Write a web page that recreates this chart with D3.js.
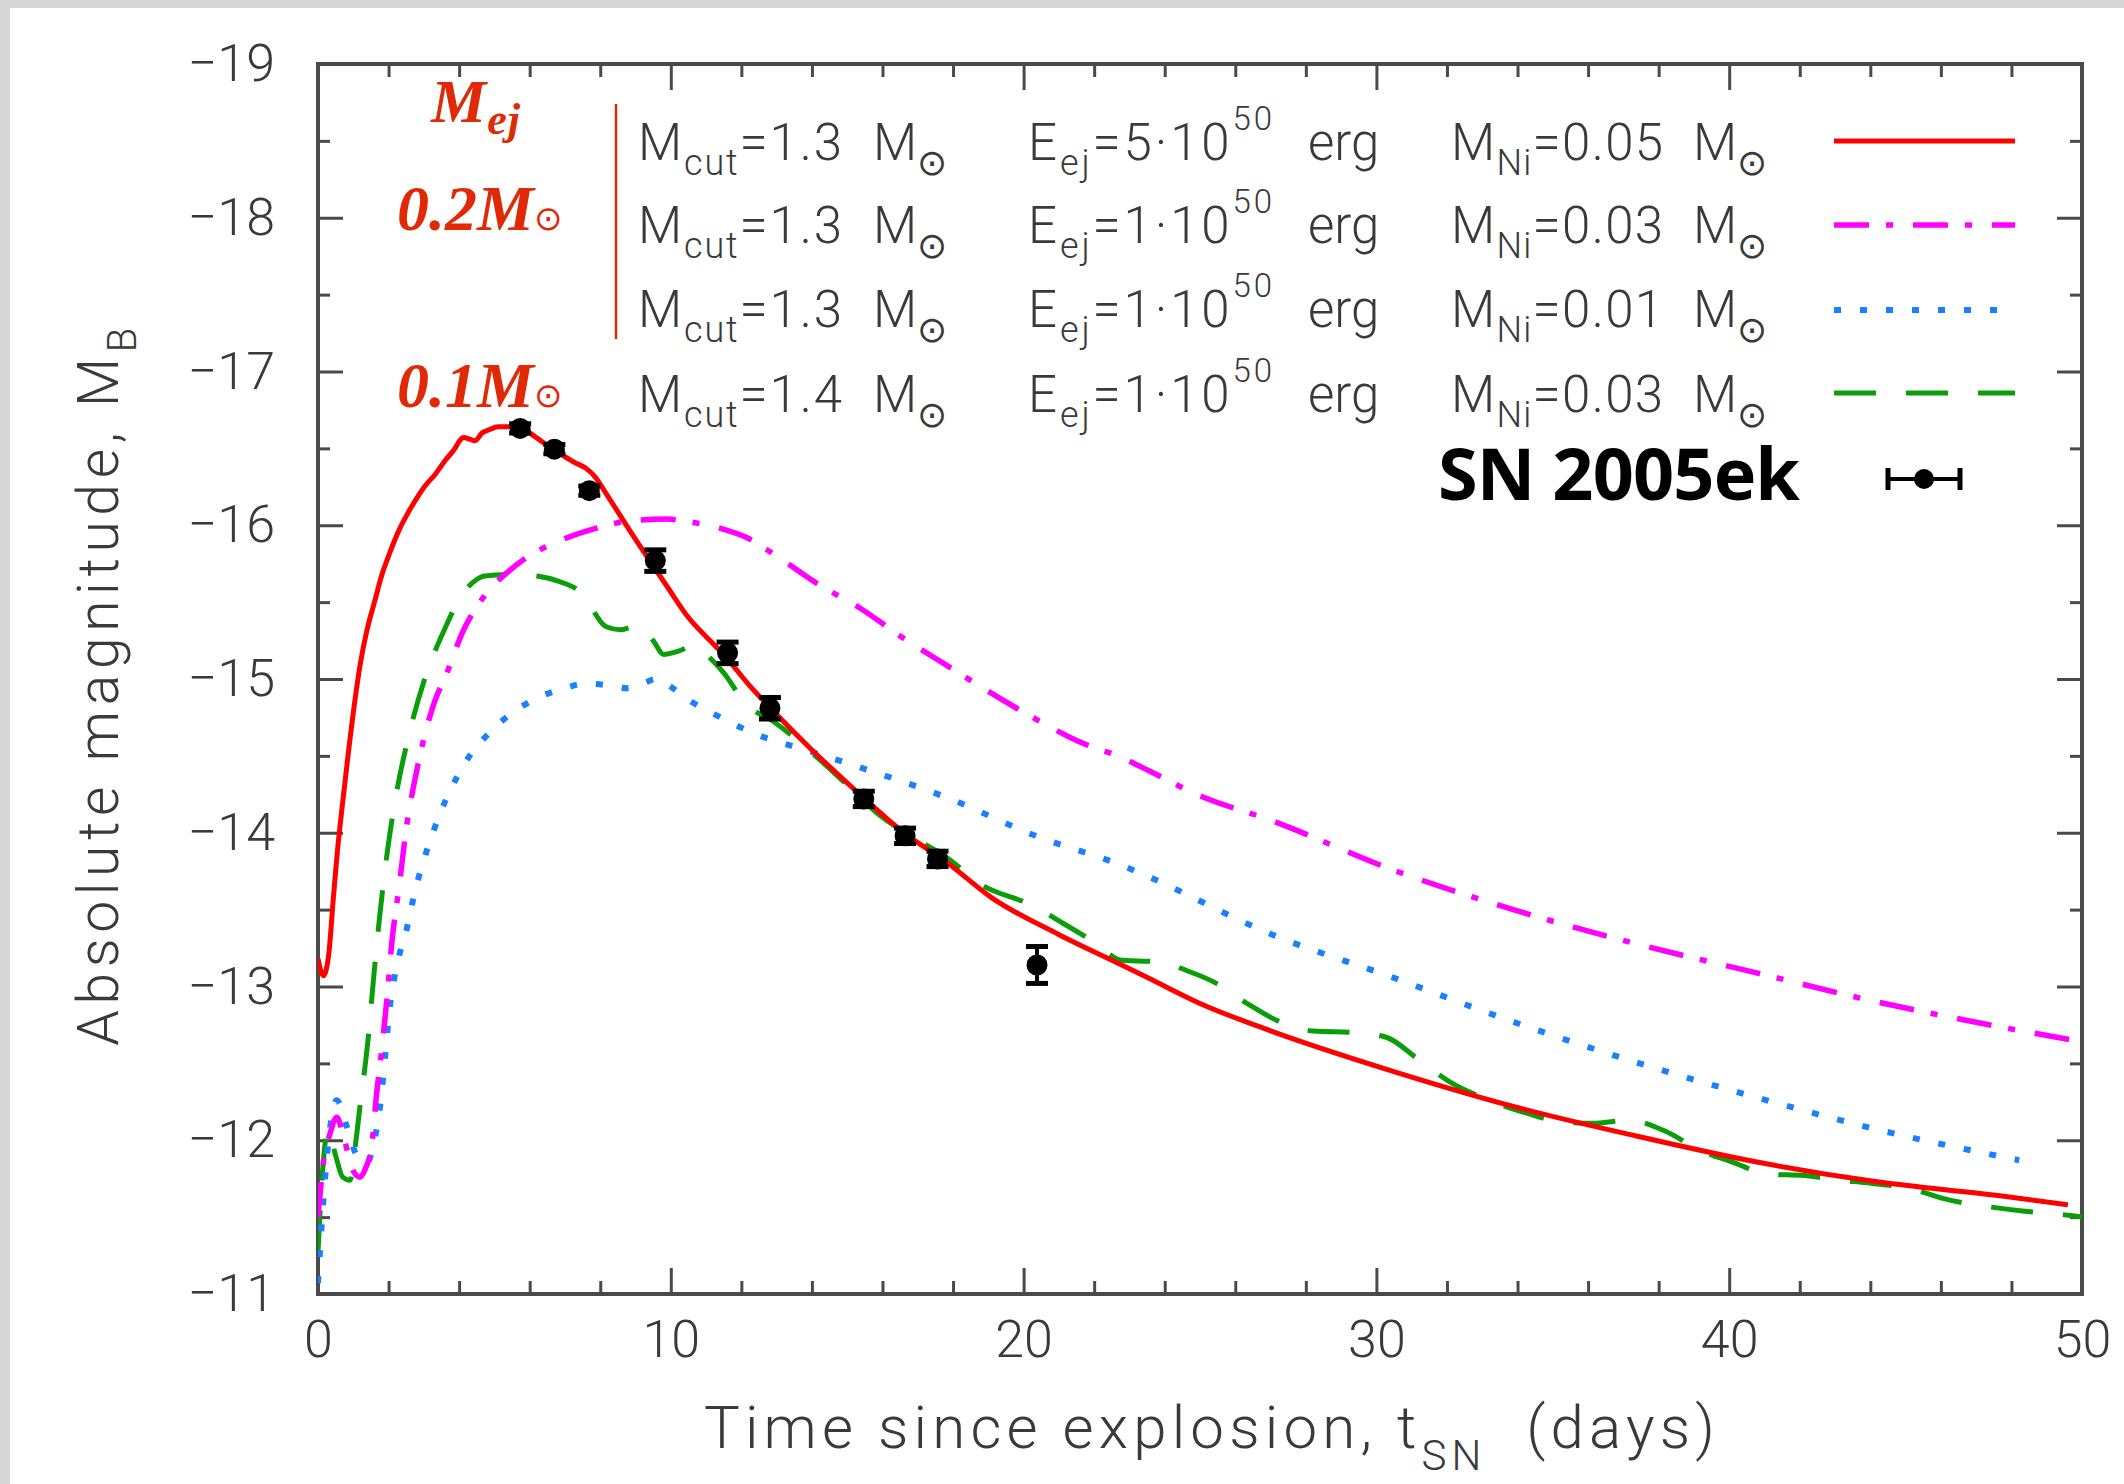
<!DOCTYPE html>
<html><head><meta charset="utf-8">
<script src="https://cdn.jsdelivr.net/npm/d3@7"></script>
<style>html,body{margin:0;padding:0;background:#fff;} svg{display:block;} text{white-space:pre;}</style>
</head><body><svg id="c" width="2124" height="1484"></svg>
<script>
// ---------- data ----------
const redT = [0,0.15,0.3,0.43,0.55,0.68,0.85,1.04,1.2,1.39,1.6,1.8,2.05,2.3,2.55,2.81,3.05,3.32,3.6,3.82,4.13,4.3,4.45,4.65,4.84,5.1,5.44,5.75,6.0,6.25,6.76,7.26,7.6,7.87,8.1,8.38,8.88,9.49,9.9,10.5,11.11,11.57,12.22,12.83,13.95,15.26,16.55,17.81,19.08,20.98,22.87,23.58,25.0,27.02,30.45,33.88,37.32,40.75,44.19,47.62,49.6];
const redM = [-13.18,-13.07,-13.2,-13.56,-13.88,-14.16,-14.5,-14.85,-15.1,-15.32,-15.5,-15.67,-15.83,-15.97,-16.08,-16.18,-16.26,-16.33,-16.42,-16.48,-16.57,-16.56,-16.55,-16.6,-16.62,-16.64,-16.64,-16.63,-16.6,-16.56,-16.48,-16.41,-16.37,-16.31,-16.23,-16.13,-15.95,-15.74,-15.6,-15.40,-15.25,-15.14,-14.96,-14.81,-14.55,-14.27,-14.01,-13.81,-13.58,-13.34,-13.13,-13.05,-12.89,-12.71,-12.45,-12.22,-12.03,-11.86,-11.73,-11.64,-11.58];

const magT = [0,0.15,0.35,0.53,0.75,1.0,1.19,1.35,1.52,1.66,1.8,1.95,2.09,2.3,2.51,2.75,3.01,3.3,3.62,4.13,4.5,4.94,5.4,5.85,6.86,7.87,8.88,9.9,10.6,11.41,12.15,12.93,14.15,15.37,16.5,17.81,19.0,20.34,21.5,22.87,23.58,25.0,27.02,30.45,33.88,37.32,40.75,44.19,47.62,50];
const magM = [-11.5,-11.85,-12.05,-12.15,-12.0,-11.8,-11.76,-11.82,-11.96,-12.3,-12.58,-12.91,-13.28,-13.65,-14.04,-14.35,-14.62,-14.85,-15.02,-15.32,-15.47,-15.6,-15.7,-15.78,-15.9,-15.98,-16.03,-16.04,-16.02,-15.98,-15.92,-15.81,-15.62,-15.46,-15.28,-15.09,-14.92,-14.74,-14.6,-14.48,-14.4,-14.24,-14.08,-13.76,-13.5,-13.28,-13.09,-12.9,-12.74,-12.64];

const bluT = [0,0.15,0.3,0.53,0.8,1.1,1.38,1.6,1.76,1.9,2.04,2.28,2.51,2.75,3.01,3.47,4.13,5.04,6.25,7.0,7.57,8.2,8.78,9.2,9.59,10.0,10.4,11.41,12.43,13.95,15.3,17.81,20.34,22.87,23.58,27.02,30.45,33.88,37.32,40.75,44.19,48.22];
const bluM = [-11.07,-11.6,-12.0,-12.26,-12.1,-11.9,-11.85,-12.0,-12.22,-12.54,-12.87,-13.18,-13.37,-13.62,-13.83,-14.13,-14.44,-14.69,-14.88,-14.94,-14.97,-14.96,-14.94,-14.97,-15.0,-14.95,-14.88,-14.75,-14.64,-14.53,-14.43,-14.23,-13.98,-13.78,-13.71,-13.34,-13.06,-12.77,-12.51,-12.28,-12.07,-11.87];

const grnT = [0,0.1,0.29,0.5,0.7,0.91,1.05,1.19,1.43,1.57,1.75,1.95,2.15,2.56,3.01,3.62,4.03,4.4,4.73,5.64,6.2,6.76,7.47,8.17,8.58,9.09,9.5,9.8,10.2,10.7,11.1,11.5,12.12,12.93,13.95,14.96,16.0,16.64,17.81,18.82,20.22,21.2,21.99,22.8,24.01,24.44,25.47,26.33,27.27,28.22,29.42,30.28,31.22,32.08,33.2,34.06,35.26,36.12,37.15,38.18,39.21,40.07,41.1,42.13,43.16,44.02,45.22,46.08,47.28,48.31,49.69,50];
const grnM = [-11.27,-11.7,-12.07,-11.9,-11.76,-11.74,-11.95,-12.22,-12.68,-13.04,-13.46,-13.85,-14.16,-14.62,-14.99,-15.34,-15.53,-15.63,-15.67,-15.68,-15.67,-15.64,-15.56,-15.34,-15.32,-15.35,-15.25,-15.16,-15.18,-15.22,-15.14,-15.04,-14.84,-14.72,-14.53,-14.32,-14.1,-14.0,-13.84,-13.66,-13.53,-13.4,-13.29,-13.17,-13.16,-13.12,-13.02,-12.89,-12.77,-12.71,-12.7,-12.67,-12.52,-12.38,-12.26,-12.19,-12.12,-12.11,-12.13,-12.06,-11.93,-11.86,-11.78,-11.77,-11.74,-11.72,-11.68,-11.62,-11.57,-11.54,-11.51,-11.5];

// SN 2005ek observations
const obsT = [5.73,6.70,7.69,9.56,11.61,12.81,15.47,16.64,17.56,20.38];
const obsM = [-16.63,-16.495,-16.225,-15.77,-15.17,-14.81,-14.22,-13.98,-13.83,-13.14];
const obsErr = [0.03,0.03,0.03,0.07,0.07,0.07,0.05,0.05,0.05,0.12];

// axes
const xMajor = [0,10,20,30,40,50];
const xMinor = [2,4,6,8,12,14,16,18,22,24,26,28,32,34,36,38,42,44,46,48];
const yMajor = [-19,-18,-17,-16,-15,-14,-13,-12,-11];
const yMinor = [-18.5,-17.5,-16.5,-15.5,-14.5,-13.5,-12.5,-11.5];
const xLabels = ["0","10","20","30","40","50"];
const yLabels = ["\u221219","\u221218","\u221217","\u221216","\u221215","\u221214","\u221213","\u221212","\u221211"];

// legend
const legMcut = ["1.3","1.3","1.3","1.4"];
const legEej = ["5","1","1","1"];
const legMNi = ["0.05","0.03","0.01","0.03"];
const obsName = "SN 2005ek";
const mejLabels = ["0.2","0.1"];

// ---------- drawing ----------
const svg = d3.select("#c");
const X0=318, X1=2082, Y0=64, Y1=1294;
const x = d3.scaleLinear().domain([0,50]).range([X0,X1]);
const y = d3.scaleLinear().domain([-19,-11]).range([Y0,Y1]);
const AX = "#4a4a4a", TX = "#3a3a3a";
const SANS = "Roboto, 'Liberation Sans', 'DejaVu Sans', sans-serif";
const SYM = "'DejaVu Sans', sans-serif";
const SERIF = "'Liberation Serif', 'DejaVu Serif', serif";

svg.append("rect").attr("width",2124).attr("height",1484).attr("fill","#fff");
svg.append("rect").attr("x",0).attr("y",0).attr("width",2124).attr("height",8).attr("fill","#d6d6d6");
svg.append("rect").attr("x",0).attr("y",0).attr("width",10).attr("height",1484).attr("fill","#d6d6d6");

function fit(t, target){
  const node=t.node(); const w=node.getComputedTextLength(); const n=node.textContent.length;
  if(n>1) t.attr("letter-spacing", (target-w)/(n-1));
}
function rich(g, px, py, segs, o){
  const t=g.append("text").attr("x",px).attr("y",py).attr("font-family",o.family)
    .attr("font-size",o.size).attr("fill",o.fill);
  if(o.weight) t.attr("font-weight",o.weight);
  if(o.style) t.attr("font-style",o.style);
  if(o.anchor) t.attr("text-anchor",o.anchor);
  let cur=0;
  segs.forEach(s=>{
    const off = s.sub ? (o.subShift||15) : s.sup ? -(o.supShift||28) : 0;
    const ts=t.append("tspan").text(s.t).attr("dy", off-cur);
    if(s.sub) ts.attr("font-size", o.subSize||36);
    if(s.sup) ts.attr("font-size", o.supSize||33);
    if(s.size) ts.attr("font-size", s.size);
    if(s.family) ts.attr("font-family", s.family);
    if(s.weight) ts.attr("font-weight", s.weight);
    if(s.fs) ts.attr("font-style", s.fs);
    cur=off;
  });
  return t;
}

// axes (inward ticks)
svg.append("g").attr("transform",`translate(0,${Y1})`)
  .call(d3.axisBottom(x).tickValues(xMajor).tickSize(-26).tickPadding(26)
    .tickFormat((d,i)=>xLabels[i]));
svg.append("g").attr("transform",`translate(0,${Y1})`)
  .call(d3.axisBottom(x).tickValues(xMinor).tickSize(-13).tickFormat(""));
svg.append("g").attr("transform",`translate(0,${Y0})`)
  .call(d3.axisTop(x).tickValues(xMajor).tickSize(-26).tickFormat(""));
svg.append("g").attr("transform",`translate(0,${Y0})`)
  .call(d3.axisTop(x).tickValues(xMinor).tickSize(-13).tickFormat(""));
svg.append("g").attr("transform",`translate(${X0},0)`)
  .call(d3.axisLeft(y).tickValues(yMajor).tickSize(-25).tickPadding(43)
    .tickFormat((d,i)=>yLabels[i]));
svg.append("g").attr("transform",`translate(${X0},0)`)
  .call(d3.axisLeft(y).tickValues(yMinor).tickSize(-12).tickFormat(""));
svg.append("g").attr("transform",`translate(${X1},0)`)
  .call(d3.axisRight(y).tickValues(yMajor).tickSize(-25).tickFormat(""));
svg.append("g").attr("transform",`translate(${X1},0)`)
  .call(d3.axisRight(y).tickValues(yMinor).tickSize(-12).tickFormat(""));
svg.selectAll(".domain").remove();
svg.selectAll(".tick line").attr("stroke",AX).attr("stroke-width",3);
svg.selectAll(".tick text").attr("font-family",SANS).attr("font-size",52)
  .attr("fill",TX).attr("font-weight",300);

// frame
svg.append("rect").attr("x",X0).attr("y",Y0).attr("width",X1-X0).attr("height",Y1-Y0)
  .attr("fill","none").attr("stroke",AX).attr("stroke-width",4);

// axis titles
const xt = rich(svg, 1212, 1448, [{t:"Time since explosion, t"},{t:"SN",sub:true},{t:"  (days)"}],
  {family:SANS,size:60,fill:TX,weight:300,anchor:"middle",subShift:22,subSize:42});
fit(xt, 1011);
const ytg = svg.append("g").attr("transform","translate(118,684) rotate(-90)");
const yt = rich(ytg, 0, 0, [{t:"Absolute magnitude, M"},{t:"B",sub:true}],
  {family:SANS,size:57,fill:TX,weight:300,anchor:"middle",subShift:18,subSize:40});
fit(yt, 718);

// curves
svg.append("clipPath").attr("id","clip").append("rect")
  .attr("x",X0).attr("y",Y0).attr("width",X1-X0).attr("height",Y1-Y0);
const line = d3.line().x(d=>x(d[0])).y(d=>y(d[1])).curve(d3.curveMonotoneX);
const series = [
  {T:redT, M:redM, color:"#ff0000", w:5, dash:null},
  {T:magT, M:magM, color:"#ff00ff", w:5.5, dash:"35,17,7,20"},
  {T:bluT, M:bluM, color:"#1a80ff", w:6, dash:"7,19"},
  {T:grnT, M:grnM, color:"#0a9e0a", w:5, dash:"42,30"}
];
const cg = svg.append("g").attr("clip-path","url(#clip)");
series.slice().reverse().forEach(s=>{
  const pts = d3.zip(s.T, s.M);
  const p = cg.append("path").datum(pts).attr("d",line).attr("fill","none")
    .attr("stroke",s.color).attr("stroke-width",s.w).attr("stroke-linejoin","round");
  if(s.dash) p.attr("stroke-dasharray",s.dash);
});

// observations
const og = svg.append("g");
const obs = d3.zip(obsT, obsM, obsErr);
obs.forEach(([t,m,e])=>{
  const cx=x(t), y1=y(m-e), y2=y(m+e);
  og.append("line").attr("x1",cx).attr("x2",cx).attr("y1",y1).attr("y2",y2)
    .attr("stroke","#000").attr("stroke-width",4);
  [y1,y2].forEach(yy=>og.append("line").attr("x1",cx-11).attr("x2",cx+11).attr("y1",yy).attr("y2",yy)
    .attr("stroke","#000").attr("stroke-width",5));
  og.append("circle").attr("cx",cx).attr("cy",y(m)).attr("r",10.5).attr("fill","#000");
});

// legend
const lg = svg.append("g");
const rowBase = [160,243,327,412];
const lineY = [141,225,310,393];
rowBase.forEach((b,i)=>{
  const o = {family:SANS,size:51,fill:TX,weight:300,subShift:15,subSize:36,supShift:30,supSize:33};
  const a1 = rich(lg, 638, b, [{t:"M"},{t:"cut",sub:true},{t:"=" + legMcut[i]}], o); fit(a1, 204);
  rich(lg, 873, b, [{t:"M"},{t:"\u2299",sub:true,family:SYM}], o);
  const b1 = rich(lg, 1028, b, [{t:"E"},{t:"ej",sub:true},{t:"="+legEej[i]+"\u00b710"},{t:"50",sup:true}], o); fit(b1, 244);
  rich(lg, 1308, b, [{t:"erg"}], o);
  const c1 = rich(lg, 1451, b, [{t:"M"},{t:"Ni",sub:true},{t:"="+legMNi[i]}], o); fit(c1, 212);
  rich(lg, 1693, b, [{t:"M"},{t:"\u2299",sub:true,family:SYM}], o);
  const s = series[i];
  const l = lg.append("line").attr("x1",1834).attr("x2", i===2?1998:2015).attr("y1",lineY[i]).attr("y2",lineY[i])
    .attr("stroke",s.color).attr("stroke-width",s.w);
  if(s.dash) l.attr("stroke-dasharray",s.dash);
});
// SN 2005ek legend
const sn = lg.append("text").attr("x",1438).attr("y",500).attr("font-family","'Open Sans', 'Liberation Sans', sans-serif")
  .attr("font-weight",700).attr("font-size",72).attr("fill","#000").text(obsName);
fit(sn, 362);
lg.append("line").attr("x1",1888).attr("x2",1960).attr("y1",479).attr("y2",479).attr("stroke","#000").attr("stroke-width",4);
[1888,1960].forEach(xx=>lg.append("line").attr("x1",xx).attr("x2",xx).attr("y1",468).attr("y2",490).attr("stroke","#000").attr("stroke-width",5));
lg.append("circle").attr("cx",1924).attr("cy",479).attr("r",10).attr("fill","#000");

// red M_ej annotation
const RED = "#e02a06";
const ag = svg.append("g");
const mej = rich(ag, 431, 122, [{t:"M"},{t:"ej",sub:true}],
  {family:SERIF,size:62,fill:RED,weight:700,style:"italic",subShift:12,subSize:44});
fit(mej, 89);
[230,407].forEach((b,i)=>{
  rich(ag, 397, b, [{t:mejLabels[i]+"M"},{t:"\u2299",family:SYM,weight:400,fs:"normal",size:34}],
    {family:SERIF,size:64,fill:RED,weight:700,style:"italic"});
});
ag.append("line").attr("x1",616).attr("x2",616).attr("y1",104).attr("y2",339)
  .attr("stroke",RED).attr("stroke-width",2.5);
</script></body></html>
